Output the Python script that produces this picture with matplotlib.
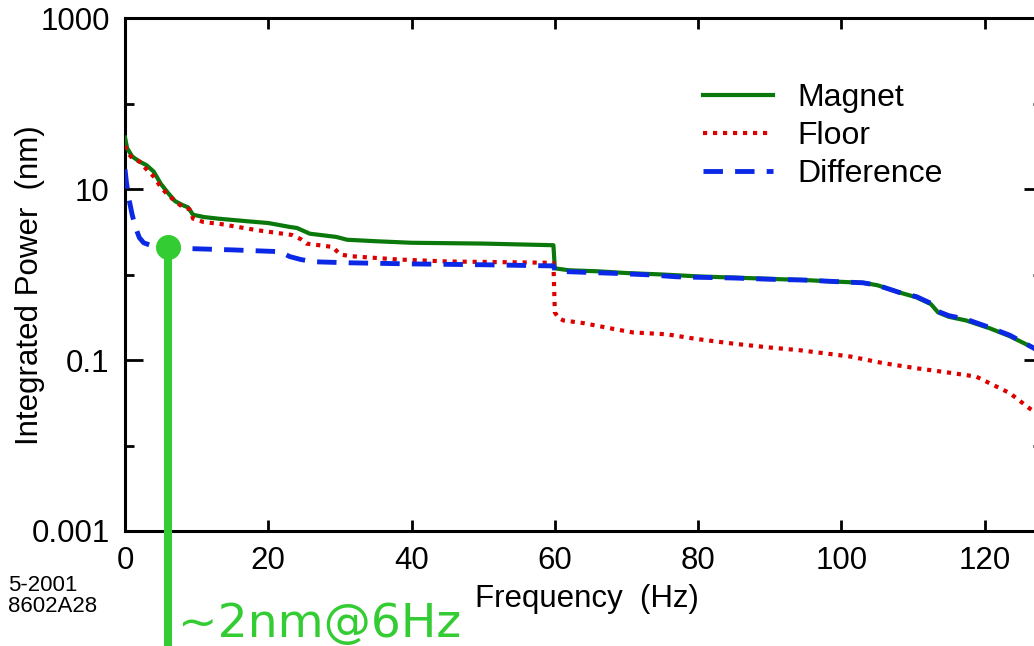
import matplotlib
matplotlib.use("Agg")
import matplotlib.pyplot as plt
from matplotlib.ticker import FixedLocator, FixedFormatter, NullFormatter
from matplotlib.transforms import blended_transform_factory

# data (integrated power in nm vs frequency in Hz)
magnet_freq = [0, 0.3, 1.0, 2.0, 3.0, 4.0, 5.0, 6.0, 7.0, 8.0, 8.8, 9.5, 11, 13, 17, 20,
               23, 24, 25.8, 28, 29.5, 31, 35, 40, 50, 59.8, 60.0, 62, 66, 70, 75, 78,
               80, 85, 90, 95, 100, 103, 105, 108, 110.5, 112.5, 113.5, 115, 117.4,
               120.7, 123.5, 126.7, 128]
magnet_val = [40, 30, 24, 21, 19, 16, 11.5, 9, 7.2, 6.5, 6.1, 5.0, 4.7, 4.5, 4.2, 4.0,
              3.6, 3.5, 3.0, 2.85, 2.75, 2.55, 2.45, 2.35, 2.3, 2.2, 1.18, 1.12, 1.09,
              1.04, 1.0, 0.97, 0.95, 0.92, 0.89, 0.86, 0.82, 0.80, 0.75, 0.62, 0.54,
              0.45, 0.36, 0.32, 0.29, 0.235, 0.19, 0.14, 0.12]

floor_freq = [0, 0.3, 1.0, 2.0, 3.0, 4.0, 5.0, 6.0, 7.0, 8.0, 9.0, 9.5, 11, 13.3, 18.4,
              23.3, 24.5, 25.3, 29, 30, 31.4, 38, 45, 59.8, 60.0, 60.5, 61.2, 64, 67.7,
              70.9, 75.6, 79.8, 85, 90, 94.2, 101.2, 105.8, 110.5, 115.1, 118.8, 121.2,
              123.5, 126.3, 128]
floor_val = [32, 27, 23, 21, 17, 14, 10.5, 8.5, 7.2, 6.2, 5.8, 4.5, 4.1, 3.9, 3.3, 2.9,
             2.6, 2.3, 2.1, 1.72, 1.64, 1.5, 1.42, 1.37, 0.36, 0.31, 0.29, 0.27, 0.235,
             0.21, 0.20, 0.176, 0.155, 0.14, 0.13, 0.11, 0.092, 0.080, 0.071, 0.064,
             0.051, 0.041, 0.027, 0.022]

diff_freq = [0, 0.2, 0.5, 1.0, 1.5, 2.0, 2.6, 4.2, 8.1, 15, 21.6, 23, 24.5, 26.2, 31.4,
             40, 50, 59.8, 60.0, 61.6, 68.6, 73.2, 77, 79.3, 85, 90, 95, 100, 103, 105,
             108, 110.5, 112.5, 113.5, 115, 117.4, 120.7, 123.5, 126.7, 128]
diff_val = [17, 12, 8, 5.0, 3.5, 2.7, 2.35, 2.1, 2.02, 1.94, 1.85, 1.62, 1.5, 1.41, 1.37,
            1.33, 1.3, 1.26, 1.13, 1.08, 1.03, 0.99, 0.94, 0.93, 0.91, 0.88, 0.86, 0.82,
            0.80, 0.75, 0.62, 0.55, 0.46, 0.37, 0.33, 0.30, 0.24, 0.195, 0.14, 0.12]

x_ticks = [0, 20, 40, 60, 80, 100, 120]
y_major = [1e-3, 1e-1, 1e1, 1e3]
y_major_labels = ["0.001", "0.1", "10", "1000"]
y_minor = [1e-2, 1, 1e2]

marker_freq = 6
marker_val = 2.1
marker_text = "~2nm@6Hz"

plt.rcParams["font.family"] = ["Liberation Sans", "DejaVu Sans"]

fig = plt.figure(figsize=(10.34, 6.46), dpi=100)
ax = fig.add_axes([125 / 1034, 1 - 531 / 646, 917 / 1034, 513 / 646])

ax.plot(magnet_freq, magnet_val, color="#0a780a", lw=3.0, label="Magnet", zorder=3)
ax.plot(floor_freq, floor_val, color="#dd0000", lw=3.0, ls=(0, (1, 1.4)),
        label="Floor", zorder=4)
ax.plot(diff_freq, diff_val, color="#0a28e6", lw=3.5, ls=(0, (4, 2.5)),
        label="Difference", zorder=5)

ax.set_yscale("log")
ax.set_xlim(0, 128)
ax.set_ylim(1e-3, 1e3)

ax.yaxis.set_major_locator(FixedLocator(y_major))
ax.yaxis.set_major_formatter(FixedFormatter(y_major_labels))
ax.yaxis.set_minor_locator(FixedLocator(y_minor))
ax.yaxis.set_minor_formatter(NullFormatter())
ax.set_xticks(x_ticks)

for s in ax.spines.values():
    s.set_linewidth(2.2)
ax.tick_params(axis="both", which="both", direction="in", top=True, right=True,
               width=2.0, labelsize=22.5)
ax.tick_params(axis="y", which="major", length=13, pad=11)
ax.tick_params(axis="y", which="minor", length=6.5)
ax.tick_params(axis="x", which="major", length=8, pad=11)

ax.set_xlabel("Frequency  (Hz)", fontsize=22.5)
ax.set_ylabel("Integrated Power  (nm)", fontsize=22.5)
ax.xaxis.set_label_coords(0.504, -0.103)
ax.yaxis.set_label_coords(-0.087, 0.48)

ax.legend(loc="upper left", bbox_to_anchor=(703 / 1034, 1 - 83 / 646),
          bbox_transform=fig.transFigure, frameon=False, fontsize=23,
          handlelength=2.2, handletextpad=0.75, labelspacing=0.25,
          borderpad=0, borderaxespad=0)

# green annotation: stem down to the bottom of the figure
trans = blended_transform_factory(ax.transData, fig.transFigure)
y_top = ax.transData.transform((marker_freq, marker_val))[1] / fig.bbox.height
ax.plot([marker_freq, marker_freq], [y_top, 0], transform=trans, color="#33cc33",
        lw=5.8, clip_on=False, zorder=6, solid_capstyle="butt")
ax.plot([marker_freq], [marker_val], "o", color="#33cc33", ms=17, zorder=7,
        clip_on=False)
fig.text(178 / 1034, 1 - 637 / 646, marker_text, color="#33cc33", fontsize=34,
         family="DejaVu Sans", va="baseline", ha="left")

fig.text(8 / 1034, 1 - 575 / 646, "5-2001\n8602A28", fontsize=16, va="top",
         ha="left", linespacing=1.0)

fig.savefig("out.png", dpi=100)
